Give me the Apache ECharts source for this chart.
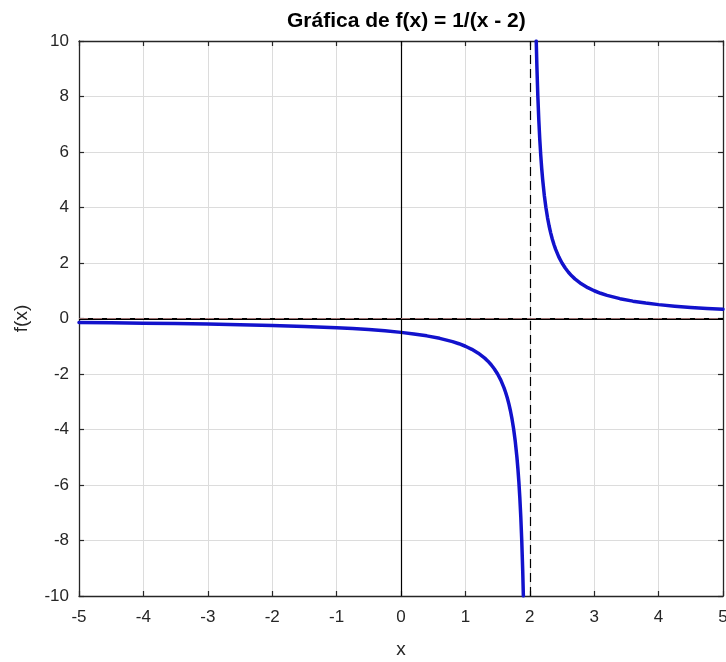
<!DOCTYPE html>
<html>
<head>
<meta charset="utf-8">
<script src="https://cdn.jsdelivr.net/npm/echarts@6/dist/echarts.min.js"></script>
<style>html,body{margin:0;padding:0;background:#fff;}#c{width:726px;height:662px;}</style>
</head>
<body>
<div id="c"></div>
<script>
var titleText = 'Gráfica de f(x) = 1/(x - 2)';
var xName = 'x';
var yName = 'f(x)';
var leftX = [-5,-4.5,-4,-3.5,-3,-2.5,-2,-1.5,-1,-0.75,-0.5,-0.25,0,0.2,0.4,0.6,0.8,0.9,1,1.1,1.2,1.3,1.35,1.4,1.45,1.5,1.55,1.6,1.625,1.65,1.675,1.7,1.725,1.75,1.775,1.8,1.815,1.83,1.845,1.86,1.875,1.89,1.9];
var leftY = [-0.1429,-0.1538,-0.1667,-0.1818,-0.2,-0.2222,-0.25,-0.2857,-0.3333,-0.3636,-0.4,-0.4444,-0.5,-0.5556,-0.625,-0.7143,-0.8333,-0.9091,-1,-1.1111,-1.25,-1.4286,-1.5385,-1.6667,-1.8182,-2,-2.2222,-2.5,-2.6667,-2.8571,-3.0769,-3.3333,-3.6364,-4,-4.4444,-5,-5.4054,-5.8824,-6.4516,-7.1429,-8,-9.0909,-10];
var rightX = [2.1,2.11,2.125,2.14,2.155,2.17,2.185,2.2,2.225,2.25,2.275,2.3,2.325,2.35,2.375,2.4,2.45,2.5,2.55,2.6,2.65,2.7,2.8,2.9,3,3.1,3.2,3.4,3.6,3.8,4,4.25,4.5,4.75,5];
var rightY = [10,9.0909,8,7.1429,6.4516,5.8824,5.4054,5,4.4444,4,3.6364,3.3333,3.0769,2.8571,2.6667,2.5,2.2222,2,1.8182,1.6667,1.5385,1.4286,1.25,1.1111,1,0.9091,0.8333,0.7143,0.625,0.5556,0.5,0.4444,0.4,0.3636,0.3333];
var vAsymptote = 2;
var hAsymptote = 0;

function pairs(xs, ys){ return xs.map(function(x,i){ return [x, ys[i]]; }); }

var font = 'Liberation Sans, Arial, sans-serif';
var chart = echarts.init(document.getElementById('c'), null, {renderer:'canvas'});
var axisCommon = {
  axisLine: {show:true, onZero:false, lineStyle:{color:'#262626', width:1.3}},
  axisTick: {show:true, inside:true, length:5, lineStyle:{color:'#262626', width:1.2}}
};
chart.setOption({
  animation:false,
  backgroundColor:'#fff',
  title:{text:titleText, left:282, top:6,
    textStyle:{fontFamily:font, fontWeight:'bold', fontSize:21, color:'#000'}},
  grid:{left:79, right:3, top:41, bottom:66, containLabel:false, outerBoundsMode:'none'},
  xAxis:[
    Object.assign({type:'value', min:-5, max:5, interval:1, position:'bottom',
      name:xName, nameLocation:'middle', nameGap:44,
      nameTextStyle:{fontFamily:font, fontSize:19, color:'#262626'},
      axisLabel:{fontFamily:font, fontSize:17, color:'#262626', margin:13},
      splitLine:{show:true, lineStyle:{color:'#dcdcdc', width:1}}}, axisCommon),
    Object.assign({type:'value', min:-5, max:5, interval:1, position:'top',
      axisLabel:{show:false}, splitLine:{show:false}}, axisCommon)
  ],
  yAxis:[
    Object.assign({type:'value', min:-10, max:10, interval:2, position:'left',
      name:yName, nameLocation:'middle', nameGap:48,
      nameTextStyle:{fontFamily:font, fontSize:19, color:'#262626'},
      axisLabel:{fontFamily:font, fontSize:17, color:'#262626', margin:10},
      splitLine:{show:true, lineStyle:{color:'#dcdcdc', width:1}}}, axisCommon),
    Object.assign({type:'value', min:-10, max:10, interval:2, position:'right',
      axisLabel:{show:false}, splitLine:{show:false}}, axisCommon)
  ],
  series:[
    {type:'line', data:[], silent:true,
      markLine:{symbol:'none', silent:true, label:{show:false},
        data:[
          {xAxis:0, lineStyle:{color:'#000', width:1.2, type:'solid'}},
          {yAxis:0, lineStyle:{color:'#000', width:1.8, type:'solid'}},
          {xAxis:vAsymptote, lineStyle:{color:'#000', width:1.2, type:[9,5]}},
          {yAxis:hAsymptote, lineStyle:{color:'#c08a8a', width:0.8, type:[9,5]}}
        ]}},
    {type:'line', data:pairs(leftX,leftY), showSymbol:false, smooth:false,
      lineStyle:{color:'#1212cc', width:3.5, join:'round', cap:'round'}, clip:true},
    {type:'line', data:pairs(rightX,rightY), showSymbol:false, smooth:false,
      lineStyle:{color:'#1212cc', width:3.5, join:'round', cap:'round'}, clip:true}
  ]
});
</script>
</body>
</html>
